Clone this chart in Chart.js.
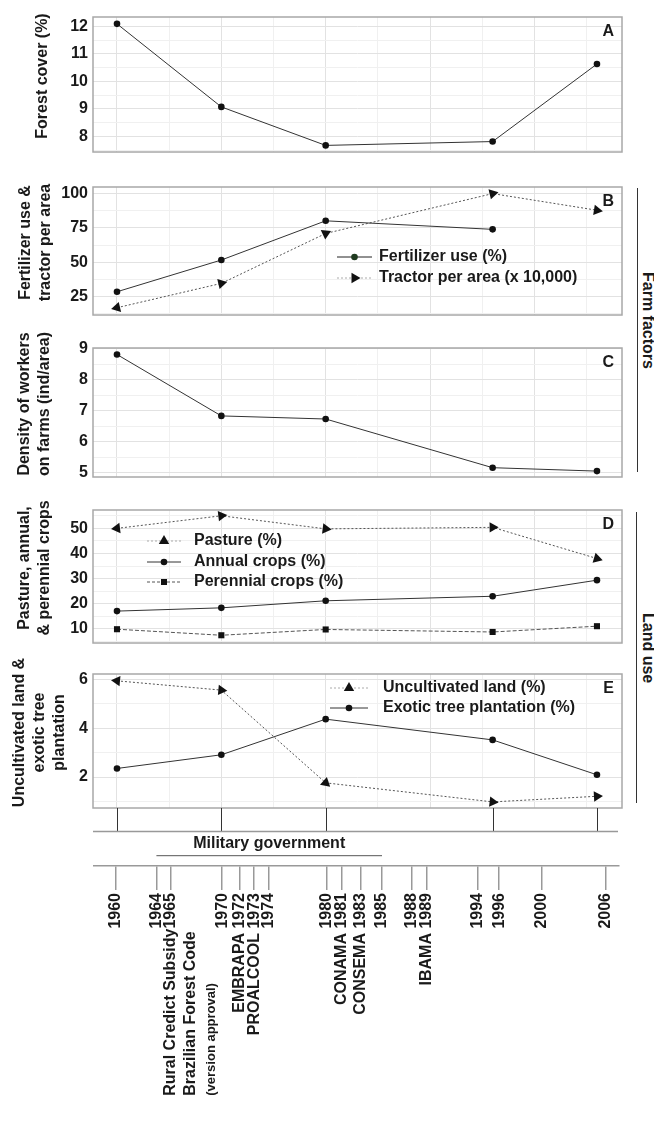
<!DOCTYPE html>
<html>
<head>
<meta charset="utf-8">
<script src="https://cdn.jsdelivr.net/npm/chart.js@4.4.1/dist/chart.umd.min.js"></script>
<style>
  html, body { margin: 0; padding: 0; background: #fff; }
  #wrap { position: relative; width: 654px; height: 1127px; overflow: hidden; background: #fff; }
  #wrap canvas { position: absolute; left: 0; }
  .group-line { position: absolute; width: 0; border-left: 1.3px solid #333; }
  .group-label { position: absolute; writing-mode: vertical-rl; font: bold 16px 'Liberation Sans', Arial, sans-serif;
    color: #1a1a1a; white-space: nowrap; line-height: 16px; }
</style>
</head>
<body>
<div id="wrap">
  <canvas id="panelA"></canvas>
  <canvas id="panelB"></canvas>
  <canvas id="panelC"></canvas>
  <canvas id="panelD"></canvas>
  <canvas id="panelE"></canvas>
  <canvas id="timeline"></canvas>
  <div class="group-line" style="left:637px; top:188px; height:284px;"></div>
  <div class="group-label" style="left:640px; top:272px;">Farm factors</div>
  <div class="group-line" style="left:636px; top:512px; height:291px;"></div>
  <div class="group-label" style="left:640px; top:613px;">Land use</div>
</div>
<script>
// ---- data ----
const years = [1960, 1970, 1980, 1996, 2006];

const forestCover = [12.09, 9.07, 7.67, 7.81, 10.63];
const fertilizerUse = [28.6, 51.7, 80.2, 74, null];
const tractorPerArea = [17, 34.7, 71, 100, 87.9];
const workerDensity = [8.82, 6.84, 6.74, 5.17, 5.06];
const pasture = [50, 55, 49.8, 50.4, 38];
const annualCrops = [17.1, 18.4, 21.2, 23, 29.4];
const perennialCrops = [9.9, 7.5, 9.8, 8.8, 11.1];
const uncultivatedLand = [5.94, 5.56, 1.76, 0.98, 1.21];
const exoticTree = [2.35, 2.91, 4.37, 3.52, 2.09];

const ticksA = [8, 9, 10, 11, 12];
const ticksB = [25, 50, 75, 100];
const ticksC = [5, 6, 7, 8, 9];
const ticksD = [10, 20, 30, 40, 50];
const ticksE = [2, 4, 6];
const gridYears = [1960, 1965, 1970, 1975, 1980, 1985, 1990, 1995, 2000, 2005];

const eventYears = [1960, 1964, 1965, 1970, 1972, 1973, 1974, 1980, 1981, 1983, 1985, 1988, 1989, 1994, 1996, 2000, 2006];
const eventLabels = ['1960', '1964', 'Rural Credict Subsidy1965', '1970', 'EMBRAPA 1972', 'PROALCOOL 1973', '1974',
  '1980', 'CONAMA 1981', 'CONSEMA 1983', '1985', '1988', 'IBAMA 1989', '1994', '1996', '2000', '2006'];
const noteYear = 1965;
const noteLines = ['Brazilian Forest Code', '(version approval)'];
const militarySpan = [1964, 1985];
const militaryLabel = 'Military government';

// ---- style ----
const FONT = "'Liberation Sans', Arial, sans-serif";
const INK = '#1a1a1a';
const GRID_MAJOR = '#e2e2e2';
const GRID_MINOR = '#f0f0f0';

const pts = (vals) => years.map((x, i) => ({ x, y: vals[i] }));

// arrow-like triangles: point along the path
function arrowRotation(ctx) {
  const data = ctx.dataset.data;
  const i = ctx.dataIndex;
  const a = data[i];
  const b = i > 0 ? data[i - 1] : data[i + 1];
  const xs = ctx.chart.scales.x, ys = ctx.chart.scales.y;
  if (!a || !b || a.y == null || b.y == null || !xs || !ys) return 0;
  const dx = xs.getPixelForValue(a.x) - xs.getPixelForValue(b.x);
  const dy = ys.getPixelForValue(a.y) - ys.getPixelForValue(b.y);
  return Math.atan2(dy, dx) * 180 / Math.PI + 90;
}

const solidCircle = (label, vals) => ({
  label, data: pts(vals), borderColor: '#333', borderWidth: 1,
  pointStyle: 'circle', pointRadius: 3.3, pointBackgroundColor: '#111', pointBorderWidth: 0
});
const dottedTriangle = (label, vals) => ({
  label, data: pts(vals), borderColor: '#555', borderWidth: 1, borderDash: [2, 2],
  pointStyle: 'triangle', pointRadius: 6, pointBackgroundColor: '#111', pointBorderWidth: 0,
  pointRotation: arrowRotation
});
const dashedSquare = (label, vals) => ({
  label, data: pts(vals), borderColor: '#555', borderWidth: 1, borderDash: [4, 2],
  pointStyle: 'rect', pointRadius: 4.3, pointBackgroundColor: '#111', pointBorderWidth: 0
});

function drawMarker(ctx, kind, x, y, rot, color) {
  ctx.save();
  ctx.translate(x, y);
  ctx.rotate(rot * Math.PI / 180);
  ctx.fillStyle = color;
  ctx.beginPath();
  if (kind === 'circle') ctx.arc(0, 0, 3.3, 0, Math.PI * 2);
  else if (kind === 'rect') ctx.rect(-3, -3, 6, 6);
  else {
    const r = 6;
    for (let k = 0; k < 3; k++) {
      const t = k * 2 * Math.PI / 3;
      ctx.lineTo(Math.sin(t) * r, -Math.cos(t) * r);
    }
    ctx.closePath();
  }
  ctx.fill();
  ctx.restore();
}

const panelDecor = {
  id: 'panelDecor',
  afterDraw(chart, args, o) {
    const { ctx, chartArea: a } = chart;
    ctx.save();
    // frame
    ctx.strokeStyle = '#a8a8a8';
    ctx.lineWidth = 1.5;
    ctx.strokeRect(a.left, a.top, a.right - a.left, a.bottom - a.top);

    ctx.fillStyle = INK;
    ctx.font = 'bold 16px ' + FONT;
    ctx.textBaseline = 'middle';
    ctx.textAlign = 'right';
    ctx.fillText(o.letter, a.right - 8, a.top + 15);

    // y title (sits a little above the panel centre, as in the figure)
    ctx.textAlign = 'center';
    const midY = (a.top + a.bottom) / 2 - 8.5;
    o.title.forEach((line, i) => {
      ctx.save();
      ctx.translate(o.titleX + i * 20, midY);
      ctx.rotate(-Math.PI / 2);
      ctx.fillText(line, 0, 0);
      ctx.restore();
    });

    // legend
    if (o.legend) {
      const lg = o.legend;
      lg.items.forEach((it, i) => {
        const y = lg.ys[i] - o.top;
        ctx.strokeStyle = it.lineColor;
        ctx.lineWidth = 1;
        ctx.setLineDash(it.dash || []);
        ctx.beginPath();
        ctx.moveTo(lg.x0, y);
        ctx.lineTo(lg.x1, y);
        ctx.stroke();
        ctx.setLineDash([]);
        drawMarker(ctx, it.marker, (lg.x0 + lg.x1) / 2, y, it.rot || 0, it.markerColor || '#111');
        ctx.fillStyle = INK;
        ctx.textAlign = 'left';
        ctx.fillText(it.label, lg.textX, y);
      });
    }

    // long ticks down to the timeline (panel E only)
    if (o.connectors) {
      const xs = chart.scales.x;
      const yEnd = a.bottom + 23.5;
      ctx.strokeStyle = '#333';
      ctx.lineWidth = 1;
      years.forEach((yr) => {
        const x = Math.round(xs.getPixelForValue(yr)) + 0.5;
        ctx.beginPath();
        ctx.moveTo(x, a.bottom);
        ctx.lineTo(x, yEnd);
        ctx.stroke();
      });
      ctx.strokeStyle = '#999';
      ctx.lineWidth = 1.5;
      ctx.beginPath();
      ctx.moveTo(a.left, yEnd);
      ctx.lineTo(a.right - 4, yEnd);
      ctx.stroke();
    }
    ctx.restore();
  }
};

function gridWithMinors(majors, min, max) {
  const step = majors[1] - majors[0];
  const out = [];
  for (let i = -1; i < majors.length; i++) {
    const m = (i < 0 ? majors[0] - step : majors[i]) + step / 2;
    if (i >= 0) out.push(majors[i]);
    if (m >= min && m <= max) out.push(m);
  }
  return out.sort((p, q) => p - q);
}

const X_MIN = 1957.7, X_MAX = 2008.4;

function makePanel(p) {
  const canvas = document.getElementById(p.id);
  canvas.width = 630;
  canvas.height = p.height;
  canvas.style.top = p.top + 'px';
  const yGrid = gridWithMinors(p.yTicks, p.yMin, p.yMax);
  return new Chart(canvas, {
    type: 'line',
    data: { datasets: p.datasets },
    options: {
      responsive: false,
      animation: false,
      events: [],
      layout: { padding: { top: 17, bottom: p.padBottom, left: 0, right: 8 } },
      plugins: {
        legend: { display: false },
        tooltip: { enabled: false },
        panelDecor: {
          letter: p.letter, title: p.title, titleX: p.titleX, legend: p.legend,
          top: p.top, connectors: p.connectors
        }
      },
      scales: {
        x: {
          type: 'linear', min: X_MIN, max: X_MAX,
          afterBuildTicks: (s) => { s.ticks = gridYears.map((v) => ({ value: v })); },
          afterFit: (s) => { s.height = 0; },
          ticks: { display: false, autoSkip: false },
          grid: {
            drawTicks: false, lineWidth: 1,
            color: (c) => (c.tick && c.tick.value % 10 === 0 ? GRID_MAJOR : GRID_MINOR)
          },
          border: { display: false }
        },
        y: {
          type: 'linear', min: p.yMin, max: p.yMax,
          afterBuildTicks: (s) => { s.ticks = yGrid.map((v) => ({ value: v })); },
          afterFit: (s) => { s.width = 93; },
          ticks: {
            autoSkip: false, padding: 5, color: INK, font: { family: FONT, size: 16, weight: 'bold' },
            callback: (v) => (p.yTicks.includes(v) ? String(v) : '')
          },
          grid: {
            drawTicks: false, lineWidth: 1,
            color: (c) => (c.tick && p.yTicks.includes(c.tick.value) ? GRID_MAJOR : GRID_MINOR)
          },
          border: { display: false }
        }
      }
    },
    plugins: [panelDecor]
  });
}

makePanel({
  id: 'panelA', top: 0, height: 169, padBottom: 17, letter: 'A',
  yMin: 7.43, yMax: 12.34, yTicks: ticksA,
  title: ['Forest cover (%)'], titleX: 42.8,
  datasets: [solidCircle('Forest cover (%)', forestCover)]
});

makePanel({
  id: 'panelB', top: 170, height: 162, padBottom: 17, letter: 'B',
  yMin: 11.7, yMax: 104.8, yTicks: ticksB,
  title: ['Fertilizer use &', 'tractor per area'], titleX: 26,
  datasets: [
    solidCircle('Fertilizer use (%)', fertilizerUse),
    dottedTriangle('Tractor per area (x 10,000)', tractorPerArea)
  ],
  legend: {
    x0: 337, x1: 372, textX: 379, ys: [257, 278],
    items: [
      { label: 'Fertilizer use (%)', marker: 'circle', lineColor: '#222', markerColor: '#1f3a1f' },
      { label: 'Tractor per area (x 10,000)', marker: 'triangle', lineColor: '#aaa', dash: [2, 2], rot: 90 }
    ]
  }
});

makePanel({
  id: 'panelC', top: 331, height: 163, padBottom: 17, letter: 'C',
  yMin: 4.87, yMax: 9.03, yTicks: ticksC,
  title: ['Density of workers', 'on farms (ind/area)'], titleX: 24.5,
  datasets: [solidCircle('Density of workers', workerDensity)]
});

makePanel({
  id: 'panelD', top: 493, height: 167, padBottom: 17, letter: 'D',
  yMin: 4.42, yMax: 57.3, yTicks: ticksD,
  title: ['Pasture, annual,', '& perennial crops'], titleX: 24.5,
  datasets: [
    dottedTriangle('Pasture (%)', pasture),
    solidCircle('Annual crops (%)', annualCrops),
    dashedSquare('Perennial crops (%)', perennialCrops)
  ],
  legend: {
    x0: 147, x1: 181, textX: 194, ys: [541, 562, 582],
    items: [
      { label: 'Pasture (%)', marker: 'triangle', lineColor: '#aaa', dash: [2, 2] },
      { label: 'Annual crops (%)', marker: 'circle', lineColor: '#333' },
      { label: 'Perennial crops (%)', marker: 'rect', lineColor: '#555', dash: [3, 2] }
    ]
  }
});

makePanel({
  id: 'panelE', top: 657, height: 186, padBottom: 35, letter: 'E',
  yMin: 0.73, yMax: 6.22, yTicks: ticksE,
  title: ['Uncultivated land &', 'exotic tree', 'plantation'], titleX: 19.5,
  datasets: [
    dottedTriangle('Uncultivated land (%)', uncultivatedLand),
    solidCircle('Exotic tree plantation (%)', exoticTree)
  ],
  legend: {
    x0: 330, x1: 368, textX: 383, ys: [688, 708],
    items: [
      { label: 'Uncultivated land (%)', marker: 'triangle', lineColor: '#aaa', dash: [2, 2] },
      { label: 'Exotic tree plantation (%)', marker: 'circle', lineColor: '#333' }
    ]
  },
  connectors: true
});

// ---- timeline of events ----
// close years are pushed apart a little so their labels do not run into each other
function spreadPixels(raw, gap) {
  const p = raw.slice();
  for (let it = 0; it < 200; it++) {
    let moved = false;
    for (let i = 0; i < p.length - 1; i++) {
      const d = p[i + 1] - p[i];
      if (d < gap - 0.01) {
        const s = (gap - d) / 2;
        p[i] -= s;
        p[i + 1] += s;
        moved = true;
      }
    }
    if (!moved) break;
  }
  return p;
}

const timelineDecor = {
  id: 'timelineDecor',
  afterDraw(chart) {
    const { ctx, chartArea: a } = chart;
    const xs = chart.scales.x;
    const x0 = xs.getPixelForTick(eventYears.indexOf(militarySpan[0]));
    const x1 = xs.getPixelForTick(eventYears.indexOf(militarySpan[1]));
    ctx.save();
    ctx.fillStyle = INK;
    ctx.font = 'bold 16px ' + FONT;
    ctx.textAlign = 'center';
    ctx.textBaseline = 'middle';
    ctx.fillText(militaryLabel, (x0 + x1) / 2, a.top + 10);
    ctx.strokeStyle = '#555';
    ctx.lineWidth = 1;
    ctx.beginPath();
    ctx.moveTo(x0, a.top + 21.7);
    ctx.lineTo(x1, a.top + 21.7);
    ctx.stroke();

    // extra lines under the 1965 label, starting where that label starts
    const idx = eventYears.indexOf(noteYear);
    const startY = a.bottom + 24 + 3 + ctx.measureText(eventLabels[idx]).width;
    const nx = xs.getPixelForTick(idx);
    const fonts = ['bold 16px ' + FONT, 'bold 13px ' + FONT];
    const offsets = [20, 41];
    ctx.textAlign = 'left';
    noteLines.forEach((line, i) => {
      ctx.save();
      ctx.font = fonts[i];
      ctx.translate(nx + offsets[i], startY);
      ctx.rotate(-Math.PI / 2);
      ctx.fillText(line, 0, 0);
      ctx.restore();
    });
    ctx.restore();
  }
};

const tlCanvas = document.getElementById('timeline');
tlCanvas.width = 654;
tlCanvas.height = 293;
tlCanvas.style.top = '834px';
new Chart(tlCanvas, {
  type: 'line',
  data: { datasets: [] },
  options: {
    responsive: false,
    animation: false,
    events: [],
    layout: { padding: { top: 0, bottom: 0, left: 94, right: 35 } },
    plugins: { legend: { display: false }, tooltip: { enabled: false } },
    scales: {
      x: {
        type: 'linear', min: 1957.96, max: 2007.25, position: 'bottom',
        afterBuildTicks: (s) => {
          s.ticks = eventYears.map((v) => ({ value: v }));
          s.getPixelForTick = (i) => spreadPixels(s.ticks.map((t) => s.getPixelForValue(t.value)), 14.5)[i];
        },
        afterFit: (s) => { s.height = 261; },
        ticks: {
          autoSkip: false, minRotation: 90, maxRotation: 90, padding: 3,
          color: INK, font: { family: FONT, size: 16, weight: 'bold' },
          callback: (v, i) => eventLabels[i]
        },
        grid: { drawOnChartArea: false, drawTicks: true, tickLength: 24, color: '#999', lineWidth: 1.5 },
        border: { display: true, color: '#999', width: 1.5 }
      },
      y: { display: false, min: 0, max: 1 }
    }
  },
  plugins: [timelineDecor]
});
</script>
</body>
</html>
